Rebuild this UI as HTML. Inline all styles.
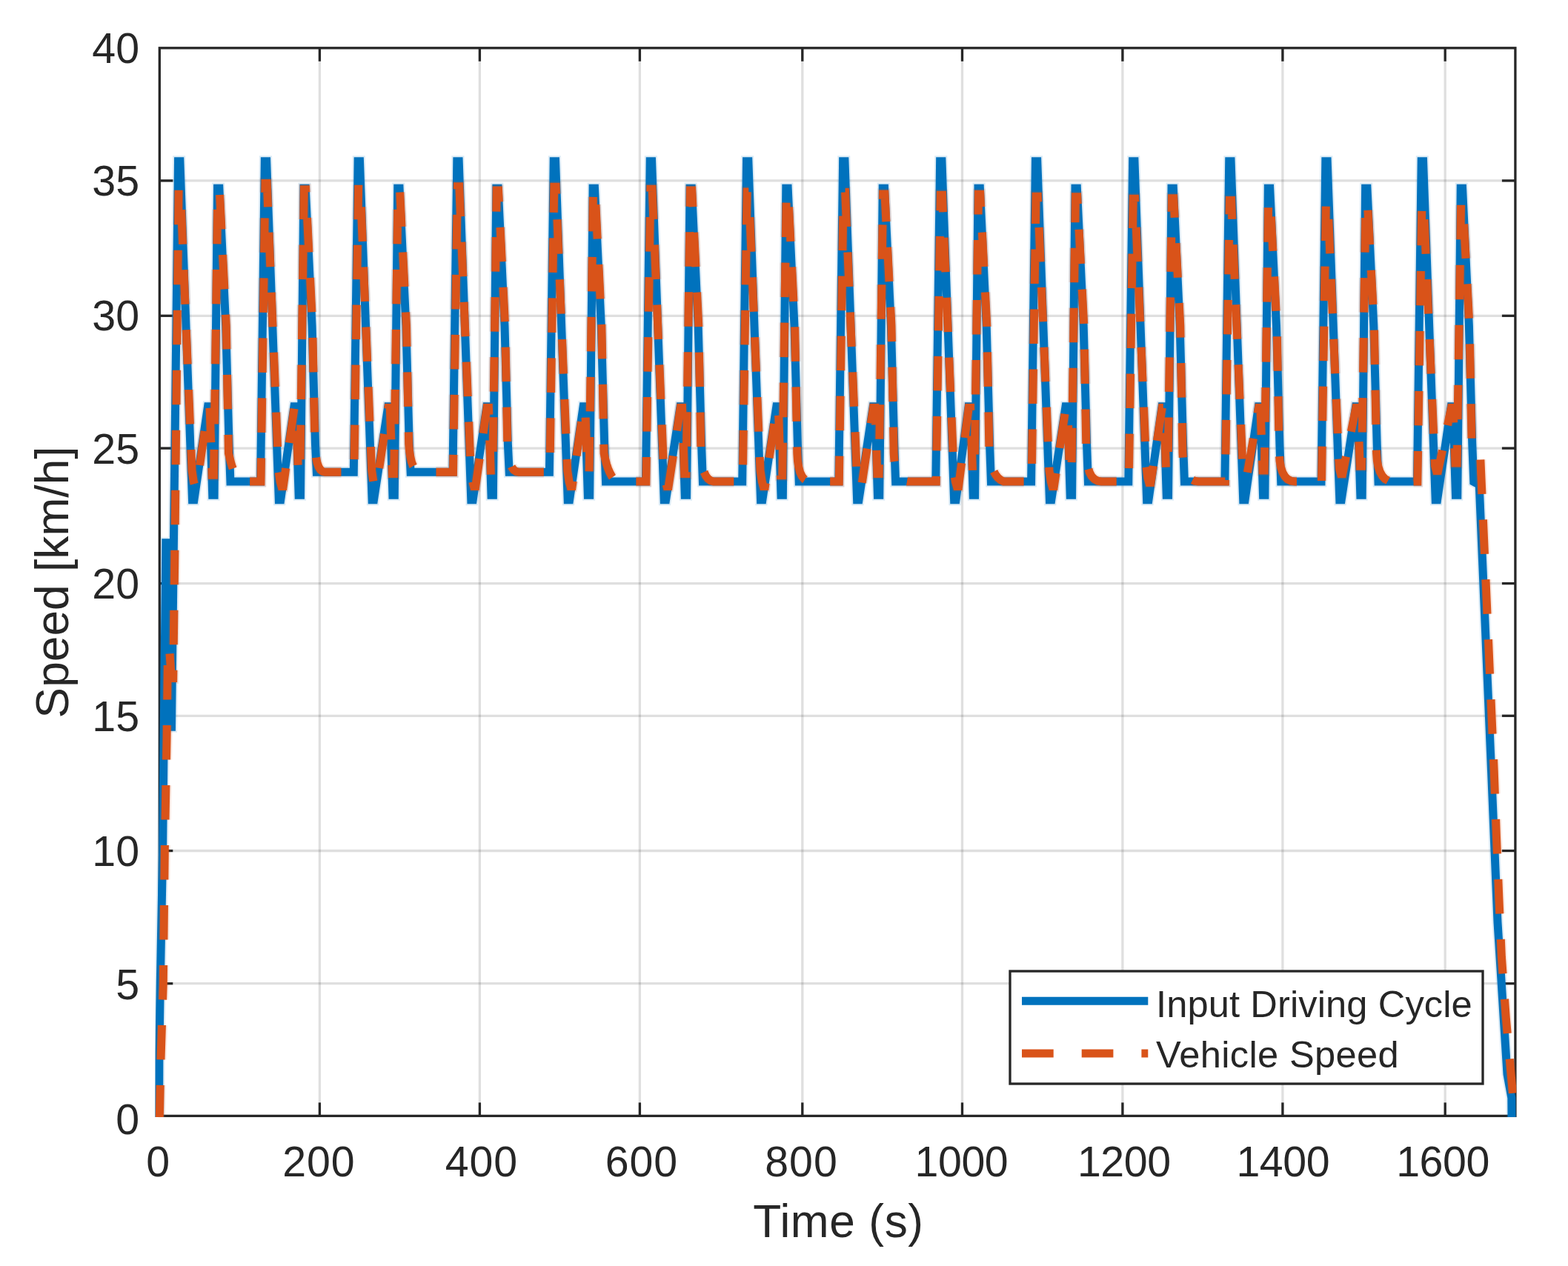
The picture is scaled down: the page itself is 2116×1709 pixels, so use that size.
<!DOCTYPE html>
<html lang="en"><head><meta charset="utf-8"><title>Input Driving Cycle vs Vehicle Speed</title>
<style>
html,body{margin:0;padding:0;background:#fff;}
body{width:2116px;height:1709px;overflow:hidden;}
svg{display:block;}
text{font-family:"Liberation Sans",sans-serif;fill:#262626;}
.tick{font-size:57.3px;}
.lab{font-size:62.2px;}
.leg{font-size:50.6px;letter-spacing:0.35px;}
</style></head><body>
<svg width="2116" height="1709" viewBox="0 0 2116 1709" role="img" aria-label="Speed over time: input driving cycle and vehicle speed">
<defs><clipPath id="ax"><rect x="209.3" y="64.8" width="1837.1" height="1443.1"/></clipPath></defs>
<rect x="0" y="0" width="2116" height="1709" fill="#ffffff"/>
<g stroke="#262626" stroke-opacity="0.15" stroke-width="3.3" fill="none">
<line x1="431.4" y1="64.8" x2="431.4" y2="1506.4"/>
<line x1="647.4" y1="64.8" x2="647.4" y2="1506.4"/>
<line x1="863.4" y1="64.8" x2="863.4" y2="1506.4"/>
<line x1="1082.8" y1="64.8" x2="1082.8" y2="1506.4"/>
<line x1="1298.5" y1="64.8" x2="1298.5" y2="1506.4"/>
<line x1="1514.9" y1="64.8" x2="1514.9" y2="1506.4"/>
<line x1="1730.9" y1="64.8" x2="1730.9" y2="1506.4"/>
<line x1="1950.2" y1="64.8" x2="1950.2" y2="1506.4"/>
<line x1="215.3" y1="1327.7" x2="2044.9" y2="1327.7"/>
<line x1="215.3" y1="1148.5" x2="2044.9" y2="1148.5"/>
<line x1="215.3" y1="966.3" x2="2044.9" y2="966.3"/>
<line x1="215.3" y1="787.6" x2="2044.9" y2="787.6"/>
<line x1="215.3" y1="605.1" x2="2044.9" y2="605.1"/>
<line x1="215.3" y1="426.3" x2="2044.9" y2="426.3"/>
<line x1="215.3" y1="243.9" x2="2044.9" y2="243.9"/>
</g>
<g stroke="#262626" stroke-width="3.3" fill="none" stroke-linecap="butt">
<rect x="215.3" y="64.8" width="1829.6" height="1441.6"/>
<line x1="431.4" y1="1506.4" x2="431.4" y2="1488.4"/>
<line x1="431.4" y1="64.8" x2="431.4" y2="82.8"/>
<line x1="647.4" y1="1506.4" x2="647.4" y2="1488.4"/>
<line x1="647.4" y1="64.8" x2="647.4" y2="82.8"/>
<line x1="863.4" y1="1506.4" x2="863.4" y2="1488.4"/>
<line x1="863.4" y1="64.8" x2="863.4" y2="82.8"/>
<line x1="1082.8" y1="1506.4" x2="1082.8" y2="1488.4"/>
<line x1="1082.8" y1="64.8" x2="1082.8" y2="82.8"/>
<line x1="1298.5" y1="1506.4" x2="1298.5" y2="1488.4"/>
<line x1="1298.5" y1="64.8" x2="1298.5" y2="82.8"/>
<line x1="1514.9" y1="1506.4" x2="1514.9" y2="1488.4"/>
<line x1="1514.9" y1="64.8" x2="1514.9" y2="82.8"/>
<line x1="1730.9" y1="1506.4" x2="1730.9" y2="1488.4"/>
<line x1="1730.9" y1="64.8" x2="1730.9" y2="82.8"/>
<line x1="1950.2" y1="1506.4" x2="1950.2" y2="1488.4"/>
<line x1="1950.2" y1="64.8" x2="1950.2" y2="82.8"/>
<line x1="215.3" y1="1327.7" x2="233.3" y2="1327.7"/>
<line x1="2044.9" y1="1327.7" x2="2026.9" y2="1327.7"/>
<line x1="215.3" y1="1148.5" x2="233.3" y2="1148.5"/>
<line x1="2044.9" y1="1148.5" x2="2026.9" y2="1148.5"/>
<line x1="215.3" y1="966.3" x2="233.3" y2="966.3"/>
<line x1="2044.9" y1="966.3" x2="2026.9" y2="966.3"/>
<line x1="215.3" y1="787.6" x2="233.3" y2="787.6"/>
<line x1="2044.9" y1="787.6" x2="2026.9" y2="787.6"/>
<line x1="215.3" y1="605.1" x2="233.3" y2="605.1"/>
<line x1="2044.9" y1="605.1" x2="2026.9" y2="605.1"/>
<line x1="215.3" y1="426.3" x2="233.3" y2="426.3"/>
<line x1="2044.9" y1="426.3" x2="2026.9" y2="426.3"/>
<line x1="215.3" y1="243.9" x2="233.3" y2="243.9"/>
<line x1="2044.9" y1="243.9" x2="2026.9" y2="243.9"/>
</g>
<g clip-path="url(#ax)" fill="none" stroke-linejoin="miter" stroke-miterlimit="2" stroke-linecap="butt">
<path stroke="#0072bd" stroke-opacity="0.14" stroke-width="15.0" d="M214.6,1508.4 L214.9,1420.0 L216.3,1327.0 L219.6,1148.0 L223.8,732.8 L226.2,732.8 L229.1,981.3 L231.5,981.3 L240.5,217.8 L242.9,217.8 L259.5,674.8 L261.9,674.8 L280.5,548.8 L282.9,548.8 L286.7,668.3 L289.1,668.3 L293.5,254.3 L295.9,254.3 L304.7,440.0 L309.1,600.0 L310.9,650.0 L351.5,650.0 L357.3,217.8 L359.7,217.8 L376.3,674.8 L378.7,674.8 L396.9,548.8 L399.3,548.8 L403.1,668.3 L405.5,668.3 L409.9,254.3 L412.3,254.3 L421.1,440.0 L425.5,600.0 L427.3,637.3 L477.3,637.3 L483.1,217.8 L485.5,217.8 L502.1,674.8 L504.5,674.8 L523.7,548.8 L526.1,548.8 L529.9,668.3 L532.3,668.3 L536.7,254.3 L539.1,254.3 L547.9,440.0 L552.3,600.0 L554.1,637.3 L611.0,637.3 L616.8,217.8 L619.2,217.8 L635.8,674.8 L638.2,674.8 L656.8,548.8 L659.2,548.8 L663.0,668.3 L665.4,668.3 L669.8,254.3 L672.2,254.3 L681.0,440.0 L685.4,600.0 L687.2,637.3 L741.4,637.3 L747.2,217.8 L749.6,217.8 L766.2,674.8 L768.6,674.8 L787.1,548.8 L789.5,548.8 L793.3,668.3 L795.7,668.3 L800.1,254.3 L802.5,254.3 L811.3,440.0 L815.7,600.0 L817.5,650.0 L871.4,650.0 L877.2,217.8 L879.6,217.8 L896.2,674.8 L898.6,674.8 L918.0,548.8 L920.4,548.8 L924.2,668.3 L926.6,668.3 L931.0,254.3 L933.4,254.3 L942.2,440.0 L946.6,600.0 L948.4,650.0 L1001.7,650.0 L1007.5,217.8 L1009.9,217.8 L1026.5,674.8 L1028.9,674.8 L1047.8,548.8 L1050.2,548.8 L1054.0,668.3 L1056.4,668.3 L1060.8,254.3 L1063.2,254.3 L1072.0,440.0 L1076.4,600.0 L1078.2,650.0 L1131.8,650.0 L1137.6,217.8 L1140.0,217.8 L1156.6,674.8 L1159.0,674.8 L1178.2,548.8 L1180.6,548.8 L1184.4,668.3 L1186.8,668.3 L1191.2,254.3 L1193.6,254.3 L1202.4,440.0 L1206.8,600.0 L1208.6,650.0 L1262.8,650.0 L1268.6,217.8 L1271.0,217.8 L1287.6,674.8 L1290.0,674.8 L1307.0,548.8 L1309.4,548.8 L1313.2,668.3 L1315.6,668.3 L1320.0,254.3 L1322.4,254.3 L1331.2,440.0 L1335.6,600.0 L1337.4,650.0 L1391.6,650.0 L1397.4,217.8 L1399.8,217.8 L1416.4,674.8 L1418.8,674.8 L1438.0,548.8 L1440.4,548.8 L1444.2,668.3 L1446.6,668.3 L1451.0,254.3 L1453.4,254.3 L1462.2,440.0 L1466.6,600.0 L1468.4,650.0 L1522.8,650.0 L1528.6,217.8 L1531.0,217.8 L1547.6,674.8 L1550.0,674.8 L1568.0,548.8 L1570.4,548.8 L1574.2,668.3 L1576.6,668.3 L1581.0,254.3 L1583.4,254.3 L1592.2,440.0 L1596.6,600.0 L1598.4,650.0 L1652.9,650.0 L1658.7,217.8 L1661.1,217.8 L1677.7,674.8 L1680.1,674.8 L1698.3,548.8 L1700.7,548.8 L1704.5,668.3 L1706.9,668.3 L1711.3,254.3 L1713.7,254.3 L1722.5,440.0 L1726.9,600.0 L1728.7,650.0 L1783.0,650.0 L1788.8,217.8 L1791.2,217.8 L1807.8,674.8 L1810.2,674.8 L1829.6,548.8 L1832.0,548.8 L1835.8,668.3 L1838.2,668.3 L1842.6,254.3 L1845.0,254.3 L1853.8,440.0 L1858.2,600.0 L1860.0,650.0 L1912.4,650.0 L1918.2,217.8 L1920.6,217.8 L1937.2,674.8 L1939.6,674.8 L1958.2,548.8 L1960.6,548.8 L1964.4,668.3 L1966.8,668.3 L1971.2,254.3 L1973.6,254.3 L1982.4,440.0 L1986.8,600.0 L1988.8,650.5 L1996.2,654.5 L2012.5,1040.0 L2021.0,1245.0 L2034.0,1450.0 L2039.8,1482.0 L2040.0,1508.4"/>
<path stroke="#0072bd" stroke-width="11.0" d="M214.6,1508.4 L214.9,1420.0 L216.3,1327.0 L219.6,1148.0 L223.8,732.8 L226.2,732.8 L229.1,981.3 L231.5,981.3 L240.5,217.8 L242.9,217.8 L259.5,674.8 L261.9,674.8 L280.5,548.8 L282.9,548.8 L286.7,668.3 L289.1,668.3 L293.5,254.3 L295.9,254.3 L304.7,440.0 L309.1,600.0 L310.9,650.0 L351.5,650.0 L357.3,217.8 L359.7,217.8 L376.3,674.8 L378.7,674.8 L396.9,548.8 L399.3,548.8 L403.1,668.3 L405.5,668.3 L409.9,254.3 L412.3,254.3 L421.1,440.0 L425.5,600.0 L427.3,637.3 L477.3,637.3 L483.1,217.8 L485.5,217.8 L502.1,674.8 L504.5,674.8 L523.7,548.8 L526.1,548.8 L529.9,668.3 L532.3,668.3 L536.7,254.3 L539.1,254.3 L547.9,440.0 L552.3,600.0 L554.1,637.3 L611.0,637.3 L616.8,217.8 L619.2,217.8 L635.8,674.8 L638.2,674.8 L656.8,548.8 L659.2,548.8 L663.0,668.3 L665.4,668.3 L669.8,254.3 L672.2,254.3 L681.0,440.0 L685.4,600.0 L687.2,637.3 L741.4,637.3 L747.2,217.8 L749.6,217.8 L766.2,674.8 L768.6,674.8 L787.1,548.8 L789.5,548.8 L793.3,668.3 L795.7,668.3 L800.1,254.3 L802.5,254.3 L811.3,440.0 L815.7,600.0 L817.5,650.0 L871.4,650.0 L877.2,217.8 L879.6,217.8 L896.2,674.8 L898.6,674.8 L918.0,548.8 L920.4,548.8 L924.2,668.3 L926.6,668.3 L931.0,254.3 L933.4,254.3 L942.2,440.0 L946.6,600.0 L948.4,650.0 L1001.7,650.0 L1007.5,217.8 L1009.9,217.8 L1026.5,674.8 L1028.9,674.8 L1047.8,548.8 L1050.2,548.8 L1054.0,668.3 L1056.4,668.3 L1060.8,254.3 L1063.2,254.3 L1072.0,440.0 L1076.4,600.0 L1078.2,650.0 L1131.8,650.0 L1137.6,217.8 L1140.0,217.8 L1156.6,674.8 L1159.0,674.8 L1178.2,548.8 L1180.6,548.8 L1184.4,668.3 L1186.8,668.3 L1191.2,254.3 L1193.6,254.3 L1202.4,440.0 L1206.8,600.0 L1208.6,650.0 L1262.8,650.0 L1268.6,217.8 L1271.0,217.8 L1287.6,674.8 L1290.0,674.8 L1307.0,548.8 L1309.4,548.8 L1313.2,668.3 L1315.6,668.3 L1320.0,254.3 L1322.4,254.3 L1331.2,440.0 L1335.6,600.0 L1337.4,650.0 L1391.6,650.0 L1397.4,217.8 L1399.8,217.8 L1416.4,674.8 L1418.8,674.8 L1438.0,548.8 L1440.4,548.8 L1444.2,668.3 L1446.6,668.3 L1451.0,254.3 L1453.4,254.3 L1462.2,440.0 L1466.6,600.0 L1468.4,650.0 L1522.8,650.0 L1528.6,217.8 L1531.0,217.8 L1547.6,674.8 L1550.0,674.8 L1568.0,548.8 L1570.4,548.8 L1574.2,668.3 L1576.6,668.3 L1581.0,254.3 L1583.4,254.3 L1592.2,440.0 L1596.6,600.0 L1598.4,650.0 L1652.9,650.0 L1658.7,217.8 L1661.1,217.8 L1677.7,674.8 L1680.1,674.8 L1698.3,548.8 L1700.7,548.8 L1704.5,668.3 L1706.9,668.3 L1711.3,254.3 L1713.7,254.3 L1722.5,440.0 L1726.9,600.0 L1728.7,650.0 L1783.0,650.0 L1788.8,217.8 L1791.2,217.8 L1807.8,674.8 L1810.2,674.8 L1829.6,548.8 L1832.0,548.8 L1835.8,668.3 L1838.2,668.3 L1842.6,254.3 L1845.0,254.3 L1853.8,440.0 L1858.2,600.0 L1860.0,650.0 L1912.4,650.0 L1918.2,217.8 L1920.6,217.8 L1937.2,674.8 L1939.6,674.8 L1958.2,548.8 L1960.6,548.8 L1964.4,668.3 L1966.8,668.3 L1971.2,254.3 L1973.6,254.3 L1982.4,440.0 L1986.8,600.0 L1988.8,650.5 L1996.2,654.5 L2012.5,1040.0 L2021.0,1245.0 L2034.0,1450.0 L2039.8,1482.0 L2040.0,1508.4"/>
<g stroke="#d95319" stroke-opacity="0.14" stroke-width="15.0" stroke-dasharray="46.5 34.5">
<path stroke-dashoffset="3.0" d="M215.3,1508.4 L217.0,1430.0 L220.3,1327.0 L222.3,1148.0 L225.0,1000.0 L226.3,897.0 L226.1,874.2 L228.5,874.2 L231.3,915.6 L233.7,915.6 L234.3,870.0 L236.0,730.0 L241.1,254.0 L243.5,254.0 L259.0,635.0 L261.3,650.0 L263.1,656.5 L265.5,656.5 L280.7,550.5 L283.1,550.5 L286.1,641.3 L288.5,641.3 L293.9,256.9 L296.3,256.9 L305.3,440.0 L308.5,612.0 L310.1,618.6 L311.7,624.8 L313.5,630.6 L315.4,636.0 L317.4,641.1 L319.5,645.7 L321.7,650.0 L352.0,650.0 L357.9,247.6 L360.3,247.6 L375.8,635.0 L378.1,650.0 L379.9,656.5 L382.3,656.5 L397.1,550.5 L399.5,550.5 L402.5,640.0 L404.9,640.0 L410.3,255.8 L412.7,255.8 L421.7,440.0 L424.9,599.3 L425.5,609.4 L426.5,617.9 L428.1,624.9 L430.1,630.3 L432.5,634.2 L435.5,636.5 L438.9,637.3 L477.8,637.3 L483.7,248.6 L486.1,248.6 L501.6,635.0 L503.9,650.0 L505.7,656.5 L508.1,656.5 L523.9,550.5 L526.3,550.5 L529.3,639.4 L531.7,639.4 L537.1,255.2 L539.5,255.2 L548.5,440.0 L551.7,599.3 L552.5,608.7 L553.8,616.8 L555.4,623.6 L557.5,629.0 L560.1,633.1 L563.1,635.9 L566.5,637.3 L611.5,637.3 L617.4,251.8 L619.8,251.8 L635.3,635.0 L637.6,650.0 L639.4,656.5 L641.8,656.5 L657.0,550.5 L659.4,550.5 L662.4,641.2 L664.8,641.2 L670.2,257.0 L672.6,257.0 L681.6,440.0 L684.8,599.3 L685.4,609.4 L686.6,617.9 L688.3,624.9 L690.5,630.3 L693.2,634.2 L696.6,636.5 L700.4,637.3 L741.9,637.3 L747.8,252.3 L750.2,252.3 L765.7,635.0 L768.0,650.0 L769.8,656.5 L772.2,656.5 L787.3,550.5 L789.7,550.5 L792.7,639.3 L795.1,639.3 L800.5,255.0 L802.9,255.0 L811.9,440.0 L815.1,612.0 L816.7,619.6 L818.5,626.4 L820.6,632.6 L822.9,638.0 L825.5,642.7 L828.4,646.7 L831.5,650.0 L871.9,650.0 L877.8,255.3 L880.2,255.3 L895.7,635.0 L898.0,650.0 L899.8,656.5 L902.2,656.5 L918.2,550.5 L920.6,550.5 L923.6,639.6 L926.0,639.6 L931.4,257.0 L933.8,257.0 L942.8,440.0 L946.0,612.0 L946.8,621.7 L948.1,630.0 L950.0,636.9 L952.5,642.3 L955.5,646.3 L959.1,648.9 L963.2,650.0 L1002.2,650.0 L1008.1,259.1 L1010.5,259.1 L1026.0,635.0 L1028.3,650.0 L1030.1,656.5 L1032.5,656.5 L1048.0,550.5 L1050.4,550.5 L1053.4,641.7 L1055.8,641.7 L1061.2,260.6 L1063.6,260.6 L1072.6,440.0 L1075.8,612.0 L1076.5,622.1 L1077.8,630.6 L1079.7,637.6 L1082.3,643.0 L1085.5,646.9 L1089.3,649.2 L1093.8,650.0 L1132.3,650.0 L1138.2,259.6 L1140.6,259.6 L1156.1,635.0 L1158.4,650.0 L1160.2,656.5 L1162.6,656.5 L1178.4,550.5 L1180.8,550.5 L1183.8,639.6 L1186.2,639.6 L1191.6,262.0 L1194.0,262.0 L1203.0,440.0 L1206.2,612.0 L1206.9,622.1 L1208.2,630.6 L1210.2,637.6 L1212.9,643.0 L1216.3,646.9 L1220.3,649.2 L1225.0,650.0 L1263.3,650.0 L1269.2,263.3 L1271.6,263.3 L1287.1,635.0 L1289.4,650.0 L1291.2,656.5 L1293.6,656.5 L1307.2,550.5 L1309.6,550.5 L1312.6,640.2 L1315.0,640.2 L1320.4,262.3 L1322.8,262.3 L1331.8,440.0 L1335.0,612.0 L1336.3,620.7 L1338.1,628.4 L1340.4,634.9 L1343.2,640.3 L1346.5,644.6 L1350.3,647.9 L1354.6,650.0 L1392.1,650.0 L1398.0,265.2 L1400.4,265.2 L1415.9,635.0 L1418.2,650.0 L1420.0,656.5 L1422.4,656.5 L1438.2,550.5 L1440.6,550.5 L1443.6,638.5 L1446.0,638.5 L1451.4,265.7 L1453.8,265.7 L1462.8,440.0 L1466.0,612.0 L1466.7,622.1 L1468.2,630.6 L1470.3,637.6 L1473.2,643.0 L1476.9,646.9 L1481.3,649.2 L1486.4,650.0 L1523.3,650.0 L1529.2,268.2 L1531.6,268.2 L1546.9,630.0 L1548.8,645.0 L1550.6,651.5 L1553.0,651.5 L1568.2,550.5 L1570.6,550.5 L1573.6,636.3 L1576.0,636.3 L1581.4,267.8 L1583.8,267.8 L1592.8,440.0 L1596.0,612.0 L1596.7,622.1 L1598.2,630.6 L1600.5,637.6 L1603.5,643.0 L1607.3,646.9 L1611.9,649.2 L1617.2,650.0 L1653.4,650.0 L1659.3,270.6 L1661.7,270.6 L1676.7,623.0 L1678.1,638.0 L1679.9,644.5 L1682.3,644.5 L1698.5,550.5 L1700.9,550.5 L1703.9,634.9 L1706.3,634.9 L1711.7,270.3 L1714.1,270.3 L1723.1,440.0 L1726.3,612.0 L1727.0,622.1 L1728.5,630.6 L1730.8,637.6 L1733.8,643.0 L1737.6,646.9 L1742.2,649.2 L1747.5,650.0 L1783.5,650.0 L1789.4,271.2 L1791.8,271.2 L1806.6,618.2 L1807.6,633.2 L1809.4,639.7 L1811.8,639.7 L1829.8,550.5 L1832.2,550.5 L1835.2,629.2 L1837.6,629.2 L1843.0,272.9 L1845.4,272.9 L1854.4,440.0 L1857.6,612.0 L1858.4,621.8 L1860.0,630.2 L1862.3,637.1 L1865.4,642.5 L1869.1,646.5 L1873.6,649.0 L1878.8,650.0 L1912.9,650.0 L1918.8,274.5 L1921.2,274.5 L1935.9,614.0 L1936.5,629.0 L1938.3,635.5 L1940.7,635.5 L1958.4,550.5 L1960.8,550.5 L1963.8,624.9 L1966.2,624.9 L1971.6,273.6 L1974.0,273.6 L1983.0,440.0 L1986.0,593.0"/>
<path stroke-dashoffset="0.0" d="M1997.9,620.5 L2016.2,1040.0 L2019.4,1128.0 L2022.9,1213.0 L2026.4,1292.0 L2032.3,1374.0 L2039.6,1456.0 L2044.5,1508.4"/>
</g>
<g stroke="#d95319" stroke-width="11.0" stroke-dasharray="46.5 34.5">
<path stroke-dashoffset="3.0" d="M215.3,1508.4 L217.0,1430.0 L220.3,1327.0 L222.3,1148.0 L225.0,1000.0 L226.3,897.0 L226.1,874.2 L228.5,874.2 L231.3,915.6 L233.7,915.6 L234.3,870.0 L236.0,730.0 L241.1,254.0 L243.5,254.0 L259.0,635.0 L261.3,650.0 L263.1,656.5 L265.5,656.5 L280.7,550.5 L283.1,550.5 L286.1,641.3 L288.5,641.3 L293.9,256.9 L296.3,256.9 L305.3,440.0 L308.5,612.0 L310.1,618.6 L311.7,624.8 L313.5,630.6 L315.4,636.0 L317.4,641.1 L319.5,645.7 L321.7,650.0 L352.0,650.0 L357.9,247.6 L360.3,247.6 L375.8,635.0 L378.1,650.0 L379.9,656.5 L382.3,656.5 L397.1,550.5 L399.5,550.5 L402.5,640.0 L404.9,640.0 L410.3,255.8 L412.7,255.8 L421.7,440.0 L424.9,599.3 L425.5,609.4 L426.5,617.9 L428.1,624.9 L430.1,630.3 L432.5,634.2 L435.5,636.5 L438.9,637.3 L477.8,637.3 L483.7,248.6 L486.1,248.6 L501.6,635.0 L503.9,650.0 L505.7,656.5 L508.1,656.5 L523.9,550.5 L526.3,550.5 L529.3,639.4 L531.7,639.4 L537.1,255.2 L539.5,255.2 L548.5,440.0 L551.7,599.3 L552.5,608.7 L553.8,616.8 L555.4,623.6 L557.5,629.0 L560.1,633.1 L563.1,635.9 L566.5,637.3 L611.5,637.3 L617.4,251.8 L619.8,251.8 L635.3,635.0 L637.6,650.0 L639.4,656.5 L641.8,656.5 L657.0,550.5 L659.4,550.5 L662.4,641.2 L664.8,641.2 L670.2,257.0 L672.6,257.0 L681.6,440.0 L684.8,599.3 L685.4,609.4 L686.6,617.9 L688.3,624.9 L690.5,630.3 L693.2,634.2 L696.6,636.5 L700.4,637.3 L741.9,637.3 L747.8,252.3 L750.2,252.3 L765.7,635.0 L768.0,650.0 L769.8,656.5 L772.2,656.5 L787.3,550.5 L789.7,550.5 L792.7,639.3 L795.1,639.3 L800.5,255.0 L802.9,255.0 L811.9,440.0 L815.1,612.0 L816.7,619.6 L818.5,626.4 L820.6,632.6 L822.9,638.0 L825.5,642.7 L828.4,646.7 L831.5,650.0 L871.9,650.0 L877.8,255.3 L880.2,255.3 L895.7,635.0 L898.0,650.0 L899.8,656.5 L902.2,656.5 L918.2,550.5 L920.6,550.5 L923.6,639.6 L926.0,639.6 L931.4,257.0 L933.8,257.0 L942.8,440.0 L946.0,612.0 L946.8,621.7 L948.1,630.0 L950.0,636.9 L952.5,642.3 L955.5,646.3 L959.1,648.9 L963.2,650.0 L1002.2,650.0 L1008.1,259.1 L1010.5,259.1 L1026.0,635.0 L1028.3,650.0 L1030.1,656.5 L1032.5,656.5 L1048.0,550.5 L1050.4,550.5 L1053.4,641.7 L1055.8,641.7 L1061.2,260.6 L1063.6,260.6 L1072.6,440.0 L1075.8,612.0 L1076.5,622.1 L1077.8,630.6 L1079.7,637.6 L1082.3,643.0 L1085.5,646.9 L1089.3,649.2 L1093.8,650.0 L1132.3,650.0 L1138.2,259.6 L1140.6,259.6 L1156.1,635.0 L1158.4,650.0 L1160.2,656.5 L1162.6,656.5 L1178.4,550.5 L1180.8,550.5 L1183.8,639.6 L1186.2,639.6 L1191.6,262.0 L1194.0,262.0 L1203.0,440.0 L1206.2,612.0 L1206.9,622.1 L1208.2,630.6 L1210.2,637.6 L1212.9,643.0 L1216.3,646.9 L1220.3,649.2 L1225.0,650.0 L1263.3,650.0 L1269.2,263.3 L1271.6,263.3 L1287.1,635.0 L1289.4,650.0 L1291.2,656.5 L1293.6,656.5 L1307.2,550.5 L1309.6,550.5 L1312.6,640.2 L1315.0,640.2 L1320.4,262.3 L1322.8,262.3 L1331.8,440.0 L1335.0,612.0 L1336.3,620.7 L1338.1,628.4 L1340.4,634.9 L1343.2,640.3 L1346.5,644.6 L1350.3,647.9 L1354.6,650.0 L1392.1,650.0 L1398.0,265.2 L1400.4,265.2 L1415.9,635.0 L1418.2,650.0 L1420.0,656.5 L1422.4,656.5 L1438.2,550.5 L1440.6,550.5 L1443.6,638.5 L1446.0,638.5 L1451.4,265.7 L1453.8,265.7 L1462.8,440.0 L1466.0,612.0 L1466.7,622.1 L1468.2,630.6 L1470.3,637.6 L1473.2,643.0 L1476.9,646.9 L1481.3,649.2 L1486.4,650.0 L1523.3,650.0 L1529.2,268.2 L1531.6,268.2 L1546.9,630.0 L1548.8,645.0 L1550.6,651.5 L1553.0,651.5 L1568.2,550.5 L1570.6,550.5 L1573.6,636.3 L1576.0,636.3 L1581.4,267.8 L1583.8,267.8 L1592.8,440.0 L1596.0,612.0 L1596.7,622.1 L1598.2,630.6 L1600.5,637.6 L1603.5,643.0 L1607.3,646.9 L1611.9,649.2 L1617.2,650.0 L1653.4,650.0 L1659.3,270.6 L1661.7,270.6 L1676.7,623.0 L1678.1,638.0 L1679.9,644.5 L1682.3,644.5 L1698.5,550.5 L1700.9,550.5 L1703.9,634.9 L1706.3,634.9 L1711.7,270.3 L1714.1,270.3 L1723.1,440.0 L1726.3,612.0 L1727.0,622.1 L1728.5,630.6 L1730.8,637.6 L1733.8,643.0 L1737.6,646.9 L1742.2,649.2 L1747.5,650.0 L1783.5,650.0 L1789.4,271.2 L1791.8,271.2 L1806.6,618.2 L1807.6,633.2 L1809.4,639.7 L1811.8,639.7 L1829.8,550.5 L1832.2,550.5 L1835.2,629.2 L1837.6,629.2 L1843.0,272.9 L1845.4,272.9 L1854.4,440.0 L1857.6,612.0 L1858.4,621.8 L1860.0,630.2 L1862.3,637.1 L1865.4,642.5 L1869.1,646.5 L1873.6,649.0 L1878.8,650.0 L1912.9,650.0 L1918.8,274.5 L1921.2,274.5 L1935.9,614.0 L1936.5,629.0 L1938.3,635.5 L1940.7,635.5 L1958.4,550.5 L1960.8,550.5 L1963.8,624.9 L1966.2,624.9 L1971.6,273.6 L1974.0,273.6 L1983.0,440.0 L1986.0,593.0"/>
<path stroke-dashoffset="0.0" d="M1997.9,620.5 L2016.2,1040.0 L2019.4,1128.0 L2022.9,1213.0 L2026.4,1292.0 L2032.3,1374.0 L2039.6,1456.0 L2044.5,1508.4"/>
</g>
</g>
<g class="tick" text-anchor="middle">
<text x="213.3" y="1587.8" style="letter-spacing:0.00px">0</text>
<text x="430.4" y="1587.8" style="letter-spacing:0.90px">200</text>
<text x="649.8" y="1587.8" style="letter-spacing:0.90px">400</text>
<text x="865.9" y="1587.8" style="letter-spacing:0.90px">600</text>
<text x="1081.5" y="1587.8" style="letter-spacing:0.90px">800</text>
<text x="1297.4" y="1587.8" style="letter-spacing:-0.45px">1000</text>
<text x="1516.8" y="1587.8" style="letter-spacing:-0.45px">1200</text>
<text x="1731.3" y="1587.8" style="letter-spacing:-0.45px">1400</text>
<text x="1947.0" y="1587.8" style="letter-spacing:-0.45px">1600</text>
</g>
<g class="tick" text-anchor="end">
<text x="188" y="1530.9">0</text>
<text x="188" y="1349.3">5</text>
<text x="188" y="1169.3">10</text>
<text x="188" y="986.8">15</text>
<text x="188" y="807.7">20</text>
<text x="188" y="625.5">25</text>
<text x="188" y="446.4">30</text>
<text x="188" y="264.4">35</text>
<text x="188" y="85.3">40</text>
</g>
<text class="lab" text-anchor="middle" x="1131.4" y="1670.4" style="letter-spacing:0.6px">Time (s)</text>
<text class="lab" text-anchor="middle" transform="translate(92,785.9) rotate(-90)" style="letter-spacing:0.05px">Speed [km/h]</text>
<rect x="1363" y="1311" width="638" height="152" fill="#ffffff" stroke="#262626" stroke-width="3.3"/>
<line x1="1379" y1="1351.2" x2="1549.3" y2="1351.2" stroke="#0072bd" stroke-width="11.0"/>
<line x1="1379" y1="1422" x2="1549.3" y2="1422" stroke="#d95319" stroke-width="11.0" stroke-dasharray="42.7 38"/>
<text class="leg" x="1560" y="1372.5" style="letter-spacing:0.12px">Input Driving Cycle</text>
<text class="leg" x="1560" y="1440.5">Vehicle Speed</text>
</svg>
</body></html>
